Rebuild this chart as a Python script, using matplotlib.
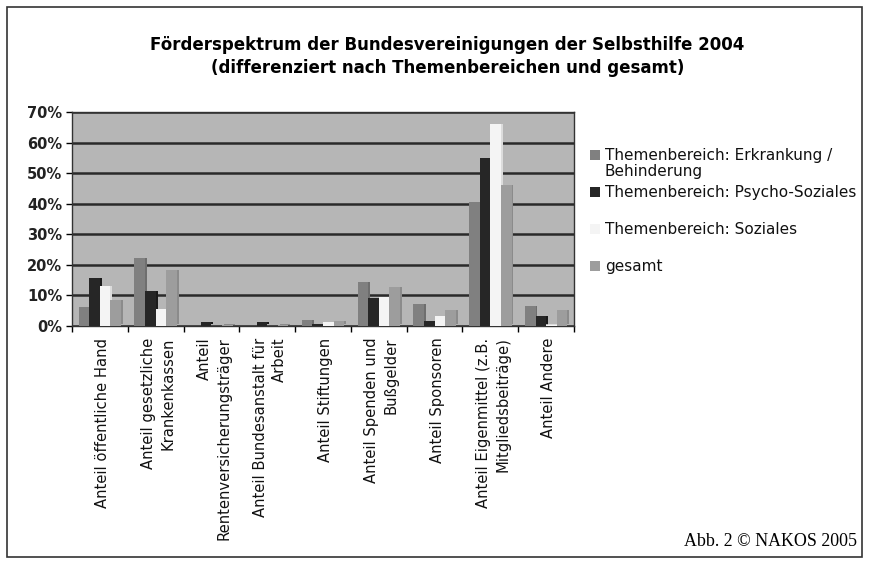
import matplotlib
matplotlib.use("Agg")
import matplotlib.pyplot as plt
import matplotlib.patches as mpatches
import numpy as np

# Kategorien (x-Achse)
categories = [
    "Anteil öffentliche Hand",
    "Anteil gesetzliche\nKrankenkassen",
    "Anteil\nRentenversicherungsträger",
    "Anteil Bundesanstalt für\nArbeit",
    "Anteil Stiftungen",
    "Anteil Spenden und\nBußgelder",
    "Anteil Sponsoren",
    "Anteil Eigenmittel (z.B.\nMitgliedsbeiträge)",
    "Anteil Andere",
]

series_names = [
    "Themenbereich: Erkrankung /\nBehinderung",
    "Themenbereich: Psycho-Soziales",
    "Themenbereich: Soziales",
    "gesamt",
]

# Werte in Prozent
erkrankung = [6.2, 22.3, 0.0, 0.0, 1.9, 14.4, 7.3, 40.4, 6.4]
psycho = [15.8, 11.6, 1.3, 1.2, 0.5, 9.2, 1.6, 55.1, 3.2]
soziales = [13.1, 5.4, 0.0, 0.0, 1.3, 9.6, 3.3, 66.2, 0.4]
gesamt = [8.6, 18.2, 0.2, 0.2, 1.5, 12.6, 5.3, 46.0, 5.3]

yticks = [0, 10, 20, 30, 40, 50, 60, 70]

colors = ["#808080", "#262626", "#f4f4f4", "#9d9d9d"]
shade = ["#6e6e6e", "#1a1a1a", "#dcdcdc", "#8b8b8b"]

fig = plt.figure(figsize=(8.74, 5.63), dpi=100)
ax = fig.add_axes([72 / 874, 1 - 326 / 563, 502 / 874, 214 / 563])
ax.set_facecolor("#b6b6b6")

x = np.arange(len(categories))
bw = 0.19
data = [erkrankung, psycho, soziales, gesamt]
for i, vals in enumerate(data):
    pos = x + (i - 1.5) * bw
    vals = np.array(vals)
    # kleine Tiefe wie im Original (3D-Effekt)
    ax.bar(pos + 0.035, np.where(vals > 0, vals - 0.6, 0), width=bw,
           bottom=np.where(vals > 0, 0.6, 0), color=shade[i], linewidth=0, zorder=2)
    ax.bar(pos, vals, width=bw, color=colors[i], linewidth=0, zorder=3)

ax.set_xlim(-0.5, len(categories) - 0.5)
ax.set_ylim(0, 70)
ax.set_yticks(yticks)
ax.set_yticklabels([f"{v}%" for v in yticks], fontsize=10.5, fontweight="bold",
                   color="#222222")
ax.yaxis.grid(True, color="#2a2a2a", linewidth=1.8)
ax.set_axisbelow(True)
ax.tick_params(axis="y", direction="out", length=4, width=1, pad=3)

ax.set_xticks(np.arange(len(categories) + 1) - 0.5, minor=True)
ax.set_xticks([])
ax.tick_params(axis="x", which="minor", direction="out", length=4, width=1)
for spine in ax.spines.values():
    spine.set_color("#333333")
    spine.set_linewidth(1)

for xi, lab in zip(x, categories):
    ax.text(xi + 0.05, -3.8, lab, rotation=90, ha="center", va="top",
            multialignment="right", fontsize=10.6, color="#111111",
            linespacing=1.35)

# Titel
fig.text(0.512, 1 - 45 / 563, "Förderspektrum der Bundesvereinigungen der Selbsthilfe 2004",
         ha="center", va="center", fontsize=12, fontweight="bold")
fig.text(0.512, 1 - 68 / 563, "(differenziert nach Themenbereichen und gesamt)",
         ha="center", va="center", fontsize=12, fontweight="bold")

# Legende
leg_y = [155, 192, 229, 266]
for name, c, yy in zip(series_names, colors, leg_y):
    fig.patches.append(mpatches.Rectangle((590 / 874, 1 - (yy + 5) / 563), 10 / 874, 10 / 563,
                                          transform=fig.transFigure, color=c, linewidth=0))
    fig.text(605 / 874, 1 - (yy - 7) / 563, name, ha="left", va="top",
             fontsize=11, color="#111111", linespacing=1.05)

# Rahmen
fig.patches.append(mpatches.Rectangle((7 / 874, 1 - 557 / 563), 855 / 874, 550 / 563,
                                      transform=fig.transFigure, fill=False,
                                      edgecolor="#333333", linewidth=1.2))

fig.text(857 / 874, 1 - 541 / 563, "Abb. 2 © NAKOS 2005", ha="right", va="center",
         fontsize=12.9, family="Liberation Serif")

fig.savefig("out.png", dpi=100, facecolor="white")
